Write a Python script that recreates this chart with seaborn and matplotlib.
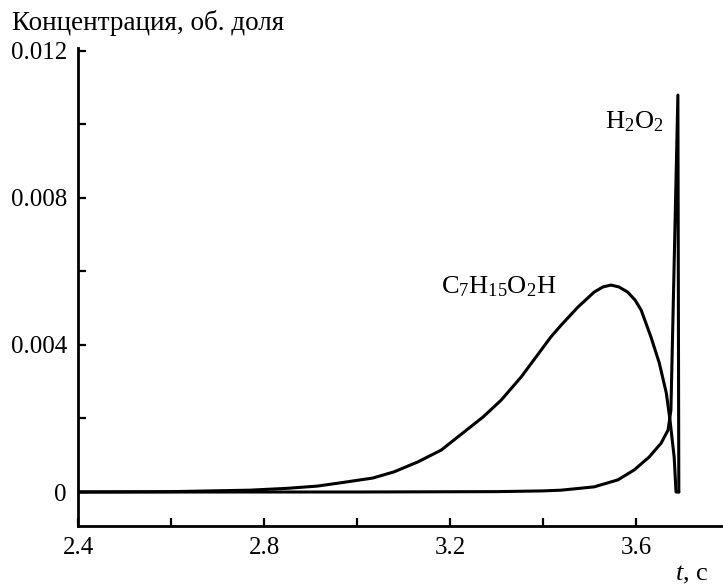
import matplotlib
matplotlib.use("Agg")
import matplotlib.pyplot as plt
import seaborn as sns
import pandas as pd
from matplotlib.ticker import FixedLocator

sns.set_theme(style="white")
plt.rcParams['font.family'] = ['Liberation Serif', 'DejaVu Serif']
plt.rcParams['mathtext.fontset'] = 'custom'
plt.rcParams['mathtext.rm'] = 'Liberation Serif'
plt.rcParams['mathtext.it'] = 'Liberation Serif:italic'

# C7H15O2H series
t_c7 = [2.4, 2.6, 2.77, 2.85, 2.914, 2.97, 3.034, 3.08, 3.131, 3.181, 3.2, 3.271,
        3.31, 3.353, 3.417, 3.439, 3.475, 3.51, 3.529, 3.546, 3.563, 3.582, 3.598,
        3.611, 3.632, 3.65, 3.665, 3.673, 3.682, 3.686, 3.692]
c_c7 = [0.0, 0.00001, 0.00005, 0.0001, 0.00016, 0.00026, 0.00038, 0.00055, 0.00082,
        0.00114, 0.00133, 0.00204, 0.0025, 0.00313, 0.00422, 0.00454, 0.00503,
        0.00544, 0.00558, 0.00563, 0.00558, 0.00544, 0.00522, 0.00495, 0.00422,
        0.00351, 0.0027, 0.00196, 0.00095, 0.0, 0.0]

# H2O2 series
t_h2o2 = [2.4, 3.0, 3.3, 3.4, 3.439, 3.51, 3.561, 3.596, 3.628, 3.654, 3.669,
          3.675, 3.690, 3.692]
c_h2o2 = [0.0, 0.0, 0.00001, 0.00003, 0.00005, 0.00014, 0.00033, 0.0006, 0.00095,
          0.00133, 0.00169, 0.00223, 0.0108, 0.0]

x_major = [2.4, 2.8, 3.2, 3.6]
x_minor = [2.6, 3.0, 3.4]
x_labels = ["2.4", "2.8", "3.2", "3.6"]
y_major = [0.0, 0.004, 0.008, 0.012]
y_minor = [0.002, 0.006, 0.010]
y_labels = ["0", "0.004", "0.008", "0.012"]

df = pd.concat([
    pd.DataFrame({"t": t_c7, "c": c_c7, "s": "C7"}),
    pd.DataFrame({"t": t_h2o2, "c": c_h2o2, "s": "H2O2"}),
])

fig = plt.figure(figsize=(7.23, 5.85), dpi=100)
ax = fig.add_axes([78/723, 59/585, 1 - 78/723, (526-48)/585])

for name, sub in df.groupby("s"):
    sns.lineplot(data=sub, x="t", y="c", ax=ax, color="black", lw=2.2,
                 sort=False, estimator=None, legend=False,
                 solid_joinstyle="round")

ax.set_xlim(2.4, 3.787)
ax.set_ylim(-0.000925, 0.01208)
for s in ["top", "right"]:
    ax.spines[s].set_visible(False)
for s in ["left", "bottom"]:
    ax.spines[s].set_linewidth(2.0)
    ax.spines[s].set_color("black")

ax.xaxis.set_major_locator(FixedLocator(x_major))
ax.xaxis.set_minor_locator(FixedLocator(x_minor))
ax.yaxis.set_major_locator(FixedLocator(y_major))
ax.yaxis.set_minor_locator(FixedLocator(y_minor))
ax.set_xticklabels(x_labels)
ax.set_yticklabels(y_labels)
ax.tick_params(which="both", direction="in", length=6, width=1.6, color="black",
               labelsize=18, labelcolor="black")
ax.tick_params(axis="x", which="both", bottom=True, pad=8)
ax.tick_params(axis="y", which="both", left=True, pad=8)
ax.set_xlabel("")
ax.set_ylabel("")

fig.text(12/723, 1 - 30/585, "Концентрация, об. доля", fontsize=19.5,
         ha="left", va="baseline", color="black")
fig.text(708/723, 1 - 580/585, r"$\it{t}$, с", fontsize=19,
         ha="right", va="baseline", color="black")

ax.text(3.2 + (440-449)/465, (492-293)/36750, r"$\mathrm{C_7H_{15}O_2H}$",
        fontsize=19, ha="left", va="baseline", color="black")
ax.text(3.2 + (604-449)/465, (492-128)/36750, r"$\mathrm{H_2O_2}$",
        fontsize=19, ha="left", va="baseline", color="black")

fig.savefig("out.png", dpi=100, facecolor="white")
